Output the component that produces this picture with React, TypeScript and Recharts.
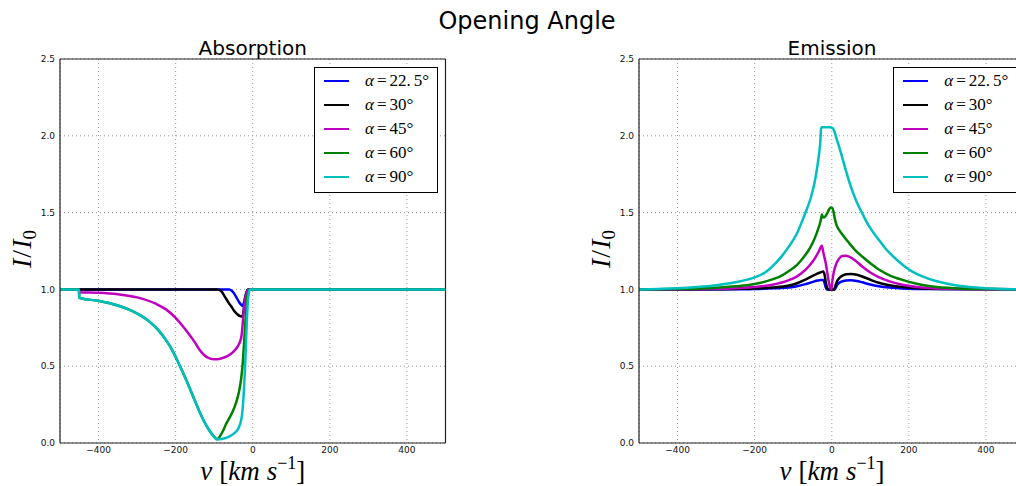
import React from 'react';
import { LineChart, Line, XAxis, YAxis, CartesianGrid, ReferenceLine, Legend } from 'recharts';

type Pt = [number, number];

// Opening angles (degrees) and line colours, one per series
const angleLabels = ['22.5', '30', '45', '60', '90'];
const seriesColors = ['#0000ff', '#000000', '#bf00bf', '#008000', '#00bfbf'];

const velocityTicks = [-400, -200, 0, 200, 400];
const intensityTicks = [0, 0.5, 1, 1.5, 2, 2.5];

// Absorption profiles: [velocity km/s, I/I0]
const absBlue: Pt[] = [
  [-500, 1], [-60, 1], [-52, 0.985], [-44, 0.955], [-36, 0.92], [-30, 0.9], [-27, 0.893], [-24, 0.905],
  [-20, 0.945], [-16, 0.982], [-12, 0.998], [-9, 1], [500, 1],
];
const absBlack: Pt[] = [
  [-500, 1], [-92, 1], [-82, 0.99], [-73, 0.955], [-63, 0.915], [-56, 0.89], [-48, 0.86], [-40, 0.838],
  [-33, 0.826], [-28, 0.824], [-25, 0.84], [-22, 0.9], [-18, 0.96], [-14, 0.995], [-10, 1], [500, 1],
];
const absMagenta: Pt[] = [
  [-500, 1], [-451, 1], [-450, 0.982], [-400, 0.978], [-350, 0.968], [-300, 0.948], [-250, 0.905],
  [-225, 0.87], [-200, 0.815], [-175, 0.74], [-150, 0.655], [-138, 0.607], [-125, 0.57], [-112, 0.551],
  [-100, 0.545], [-87, 0.547], [-75, 0.556], [-60, 0.574], [-48, 0.6], [-39, 0.629], [-33, 0.66],
  [-29, 0.7], [-26, 0.78], [-23, 0.87], [-20, 0.93], [-16, 0.975], [-12, 0.997], [-8, 1], [500, 1],
];
const absGreen: Pt[] = [
  [-500, 1], [-451, 1], [-450, 0.945], [-400, 0.925], [-350, 0.895], [-312, 0.858], [-268, 0.79],
  [-245, 0.735], [-225, 0.67], [-210, 0.61], [-200, 0.56], [-185, 0.48], [-170, 0.395], [-155, 0.305],
  [-140, 0.215], [-125, 0.135], [-112, 0.08], [-100, 0.04], [-92, 0.024], [-85, 0.045], [-77, 0.08],
  [-69, 0.125], [-60, 0.165], [-52, 0.205], [-43, 0.265], [-36, 0.33], [-30, 0.42], [-26, 0.52],
  [-22, 0.67], [-18, 0.83], [-14, 0.95], [-10, 0.995], [-7, 1], [500, 1],
];
const absCyan: Pt[] = [
  [-500, 1], [-451, 1], [-450, 0.945], [-400, 0.925], [-350, 0.895], [-312, 0.858], [-268, 0.79],
  [-245, 0.735], [-225, 0.67], [-210, 0.61], [-200, 0.56], [-185, 0.48], [-170, 0.395], [-155, 0.305],
  [-140, 0.215], [-125, 0.135], [-112, 0.08], [-100, 0.04], [-92, 0.024], [-80, 0.026], [-60, 0.043],
  [-45, 0.07], [-38, 0.092], [-32, 0.13], [-28, 0.18], [-25, 0.26], [-22, 0.39], [-19, 0.55],
  [-17, 0.69], [-15, 0.81], [-13, 0.91], [-10, 0.98], [-7, 1], [500, 1],
];

// Emission profiles: [velocity km/s, I/I0]
const emBlue: Pt[] = [
  [-500, 1], [-250, 1.001], [-200, 1.003], [-150, 1.007], [-111, 1.012], [-90, 1.02], [-67, 1.035],
  [-50, 1.048], [-40, 1.056], [-30, 1.06], [-22, 1.062], [-19, 1.045], [-16, 1.015], [-13, 1], [8, 1],
  [12, 1.02], [17, 1.038], [25, 1.05], [36, 1.058], [50, 1.06], [65, 1.055], [79, 1.046], [100, 1.032],
  [122, 1.021], [150, 1.012], [183, 1.006], [250, 1.002], [500, 1],
];
const emBlack: Pt[] = [
  [-500, 1], [-300, 1.001], [-250, 1.003], [-200, 1.006], [-154, 1.012], [-111, 1.025], [-90, 1.04],
  [-67, 1.066], [-50, 1.088], [-40, 1.1], [-30, 1.11], [-22, 1.117], [-19, 1.1], [-15, 1.04], [-11, 1.005],
  [-9, 1], [6, 1], [9, 1.02], [14, 1.055], [20, 1.075], [28, 1.09], [38, 1.098], [50, 1.1], [65, 1.096],
  [79, 1.084], [100, 1.063], [122, 1.043], [150, 1.027], [183, 1.015], [220, 1.008], [280, 1.003], [500, 1],
];
const emMagenta: Pt[] = [
  [-500, 1], [-350, 1.002], [-300, 1.004], [-250, 1.008], [-200, 1.016], [-154, 1.03], [-111, 1.06],
  [-90, 1.085], [-67, 1.13], [-50, 1.18], [-41, 1.214], [-33, 1.25], [-26, 1.284], [-21, 1.23],
  [-15.5, 1.17], [-11, 1.1], [-7, 1.04], [-3, 1.005], [-1, 1], [1, 1.04], [3, 1.08], [6, 1.12],
  [10, 1.155], [15, 1.185], [20, 1.203], [27, 1.217], [36, 1.219], [45, 1.213], [60, 1.19], [79, 1.149],
  [100, 1.11], [122, 1.08], [150, 1.052], [183, 1.03], [220, 1.016], [252, 1.009], [300, 1.004],
  [400, 1.001], [500, 1],
];
const emGreen: Pt[] = [
  [-500, 1], [-400, 1.002], [-350, 1.005], [-300, 1.01], [-250, 1.02], [-200, 1.035], [-154, 1.065],
  [-130, 1.09], [-111, 1.12], [-90, 1.16], [-76, 1.2], [-60, 1.255], [-50, 1.3], [-40, 1.36], [-33, 1.41],
  [-28, 1.455], [-25.5, 1.487], [-23, 1.47], [-20, 1.468], [-15.5, 1.48], [-10, 1.505], [-6, 1.525],
  [-2, 1.533], [1.5, 1.53], [5, 1.5], [8.5, 1.455], [13, 1.415], [19, 1.388], [30, 1.35], [45, 1.302],
  [60, 1.258], [79, 1.214], [100, 1.17], [122, 1.13], [150, 1.092], [183, 1.062], [220, 1.037],
  [252, 1.022], [300, 1.01], [338, 1.005], [400, 1.002], [500, 1],
];
const emCyan: Pt[] = [
  [-500, 1], [-450, 1.003], [-400, 1.007], [-350, 1.015], [-300, 1.027], [-269, 1.038], [-250, 1.047],
  [-200, 1.078], [-170, 1.115], [-150, 1.16], [-130, 1.215], [-111, 1.28], [-90, 1.365], [-76, 1.45],
  [-65, 1.52], [-54, 1.6], [-45, 1.69], [-38, 1.79], [-33, 1.88], [-30, 1.95], [-27.5, 2.055],
  [-3, 2.055], [2, 2.05], [6, 2.035], [12, 1.985], [19, 1.93], [27, 1.86], [36, 1.78], [48, 1.68],
  [62, 1.585], [80, 1.49], [97, 1.41], [120, 1.33], [140, 1.265], [170, 1.19], [200, 1.13], [235, 1.085],
  [270, 1.055], [300, 1.037], [340, 1.02], [380, 1.011], [425, 1.005], [500, 1],
];

const absorptionSeries = [absBlue, absBlack, absMagenta, absGreen, absCyan];
const emissionSeries = [emBlue, emBlack, emMagenta, emGreen, emCyan];

const MATH_FONT = '"Liberation Serif", "DejaVu Serif", serif';
const SANS = '"DejaVu Sans", sans-serif';

const fmtVelocity = (v: number) => (v < 0 ? '\u2212' + Math.abs(v) : String(v));
const fmtIntensity = (v: number) => v.toFixed(1);

function AngleText({ value }: { value: string }) {
  const parts = value.split('.');
  return (
    <span style={{ fontFamily: MATH_FONT, fontSize: 17, whiteSpace: 'nowrap', color: '#000' }}>
      <span style={{ fontStyle: 'italic' }}>α</span>
      <span style={{ margin: '0 3px' }}>=</span>
      {parts.length > 1 ? (
        <>
          {parts[0]}.<span style={{ marginLeft: 3 }}>{parts[1]}</span>
        </>
      ) : (
        value
      )}
      °
    </span>
  );
}

function LegendBox(props: any) {
  const payload = props.payload || [];
  return (
    <div
      style={{
        width: 124,
        height: 126,
        border: '1px solid #000',
        boxSizing: 'border-box',
        background: '#fff',
        position: 'relative',
      }}
    >
      {payload.map((entry: any, i: number) => (
        <div
          key={i}
          style={{
            position: 'absolute',
            left: 0,
            top: 12.7 + i * 24 - 11,
            height: 22,
            display: 'flex',
            alignItems: 'center',
          }}
        >
          <span
            style={{
              display: 'inline-block',
              marginLeft: 9,
              width: 25,
              height: 0,
              borderTop: `2.5px solid ${entry.color}`,
            }}
          />
          <span style={{ marginLeft: 16 }}>
            <AngleText value={String(entry.value)} />
          </span>
        </div>
      ))}
    </div>
  );
}

function Panel({ left, series }: { left: number; series: Pt[][] }) {
  return (
    <div style={{ position: 'absolute', left, top: 0 }}>
      <LineChart width={460} height={486} margin={{ top: 59, right: 14.5, bottom: 13, left: 10 }}>
        <CartesianGrid stroke="#999" strokeDasharray="1 3" />
        <XAxis
          type="number"
          dataKey="v"
          domain={[-500, 500]}
          ticks={velocityTicks}
          interval={0}
          allowDataOverflow
          tickFormatter={fmtVelocity}
          tickLine={false}
          tickSize={4}
          tickMargin={0}
          height={30}
          axisLine={{ stroke: '#222', strokeWidth: 1.2 }}
          tick={{ fontSize: 9, fill: '#111', fontFamily: SANS }}
        />
        <YAxis
          type="number"
          domain={[0, 2.5]}
          ticks={intensityTicks}
          interval={0}
          allowDataOverflow
          tickFormatter={fmtIntensity}
          width={50}
          tickLine={false}
          tickSize={4}
          tickMargin={1}
          axisLine={{ stroke: '#222', strokeWidth: 1.2 }}
          tick={{ fontSize: 9, fill: '#111', fontFamily: SANS }}
        />
        <ReferenceLine y={2.5} stroke="#222" strokeWidth={1.2} />
        <ReferenceLine x={500} stroke="#222" strokeWidth={1.2} />
        {series.map((pts, i) => (
          <Line
            key={angleLabels[i]}
            data={pts.map(([v, I]) => ({ v, I }))}
            dataKey="I"
            name={angleLabels[i]}
            stroke={seriesColors[i]}
            strokeWidth={2.5}
            type="monotone"
            dot={false}
            activeDot={false}
            isAnimationActive={false}
          />
        ))}
        <Legend
          layout="vertical"
          align="center"
          verticalAlign="middle"
          width={124}
          height={126}
          content={LegendBox}
          wrapperStyle={{ left: 314, top: 67 }}
        />
      </LineChart>
    </div>
  );
}

function YLabel({ x }: { x: number }) {
  return (
    <text transform={`translate(${x}, 249) rotate(-90)`} textAnchor="middle" fontFamily={MATH_FONT} fontSize={28}>
      <tspan fontStyle="italic">I</tspan>
      <tspan dx={1}>/</tspan>
      <tspan dx={1} fontStyle="italic">I</tspan>
      <tspan fontSize={19} dy={5}>0</tspan>
    </text>
  );
}

function XLabel({ cx }: { cx: number }) {
  return (
    <text x={cx} y={480} textAnchor="middle" fontFamily={MATH_FONT} fontSize={27}>
      <tspan fontStyle="italic">v</tspan>
      <tspan dx={7}>[</tspan>
      <tspan fontStyle="italic">km</tspan>
      <tspan dx={7} fontStyle="italic">s</tspan>
      <tspan fontSize={18} dy={-11}>{'\u22121'}</tspan>
      <tspan dy={11}>]</tspan>
    </text>
  );
}

export default function App() {
  const leftPlotX = 60;
  const rightPlotX = 639.3;
  const plotW = 385.5;
  return (
    <div
      style={{
        position: 'absolute',
        left: 0,
        top: 0,
        width: 1016,
        height: 486,
        overflow: 'hidden',
        background: '#fff',
        fontFamily: SANS,
      }}
    >
      <Panel left={leftPlotX - 60} series={absorptionSeries} />
      <Panel left={rightPlotX - 60} series={emissionSeries} />
      <svg
        width={1016}
        height={486}
        style={{ position: 'absolute', left: 0, top: 0, pointerEvents: 'none' }}
      >
        <text x={527} y={29} textAnchor="middle" fontFamily={SANS} fontSize={24}>
          Opening Angle
        </text>
        <text x={leftPlotX + plotW / 2} y={55} textAnchor="middle" fontFamily={SANS} fontSize={20}>
          Absorption
        </text>
        <text x={rightPlotX + plotW / 2} y={55} textAnchor="middle" fontFamily={SANS} fontSize={20}>
          Emission
        </text>
        <YLabel x={leftPlotX - 29} />
        <YLabel x={rightPlotX - 29} />
        <XLabel cx={leftPlotX + plotW / 2} />
        <XLabel cx={rightPlotX + plotW / 2} />
      </svg>
    </div>
  );
}
